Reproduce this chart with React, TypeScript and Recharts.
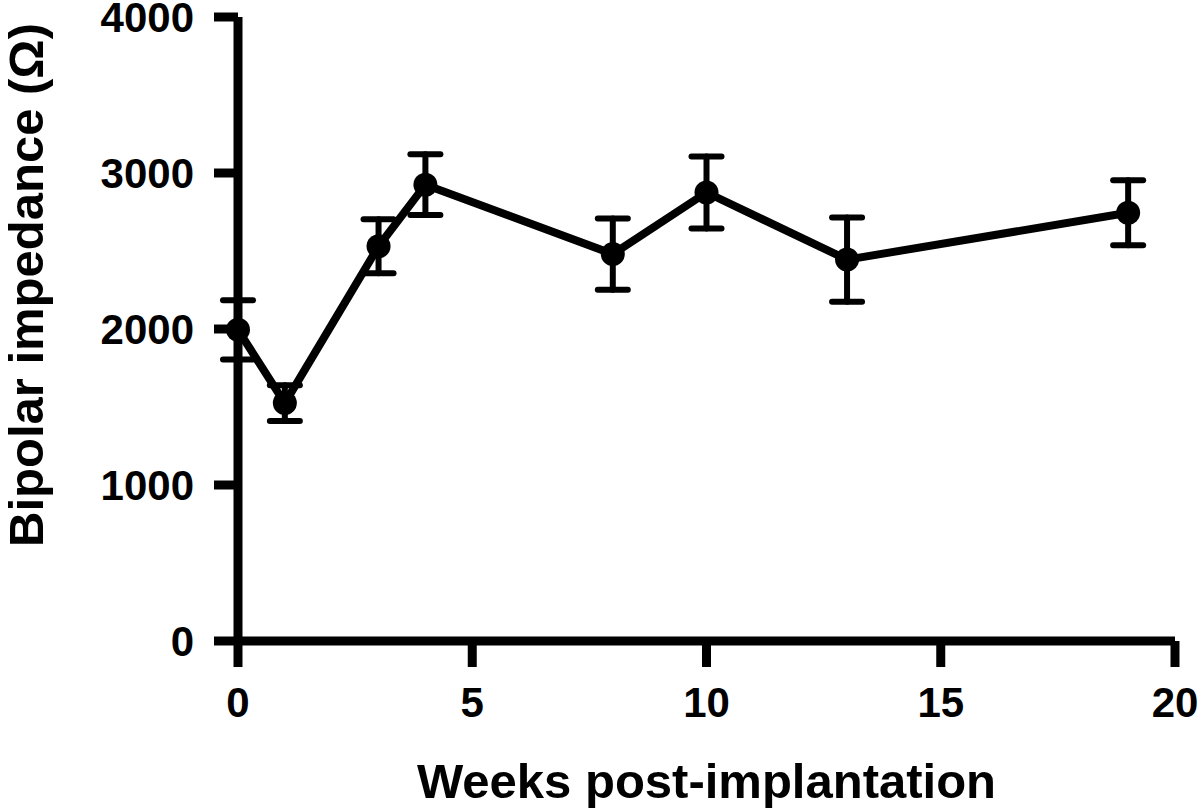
import React from "react";
import {
  ComposedChart,
  Line,
  XAxis,
  YAxis,
  ErrorBar,
  Label,
} from "recharts";

// weeks after implantation, mean bipolar impedance (ohm) and error (SEM)
const weeks = [0, 1, 3, 4, 8, 10, 13, 19];
const impedance = [1995, 1525, 2530, 2925, 2480, 2875, 2445, 2745];
const sem = [190, 115, 173, 195, 228, 230, 270, 208];

const xTicks = [0, 5, 10, 15, 20];
const yTicks = [0, 1000, 2000, 3000, 4000];

const data = weeks.map((w, i) => ({ week: w, value: impedance[i], err: sem[i] }));

const FONT = "'Liberation Sans', Arial, Helvetica, sans-serif";
const AXIS_STROKE = { stroke: "#000", strokeWidth: 9 };
const TICK_STYLE = { fill: "#000", fontSize: 42, fontWeight: "bold", fontFamily: FONT };
const TITLE_STYLE = { fontSize: 49, fontWeight: "bold", fill: "#000", fontFamily: FONT };

export default function App() {
  return (
    <div style={{ position: "absolute", left: 0, top: 0, background: "#fff", fontFamily: FONT }}>
      <ComposedChart
        width={1200}
        height={811}
        data={data}
        margin={{ top: 17, right: 25, left: 0, bottom: 0 }}
      >
        <XAxis
          dataKey="week"
          type="number"
          domain={[0, 20]}
          ticks={xTicks}
          interval={0}
          height={170}
          tick={TICK_STYLE}
          tickSize={26}
          tickMargin={20}
          tickLine={AXIS_STROKE}
          axisLine={AXIS_STROKE}
        >
          <Label
            value="Weeks post-implantation"
            position="insideBottom"
            offset={13}
            style={TITLE_STYLE}
          />
        </XAxis>
        <YAxis
          type="number"
          domain={[0, 4000]}
          ticks={yTicks}
          interval={0}
          width={238}
          tick={TICK_STYLE}
          tickSize={24}
          tickMargin={20}
          tickLine={AXIS_STROKE}
          axisLine={AXIS_STROKE}
        >
          <Label
            content={() => (
              <text
                x={26}
                y={285}
                transform="rotate(-90 26 285)"
                textAnchor="middle"
                dominantBaseline="central"
                style={TITLE_STYLE}
              >
                Bipolar impedance (Ω)
              </text>
            )}
          />
        </YAxis>
        <Line
          type="linear"
          dataKey="value"
          stroke="#000"
          strokeWidth={8}
          dot={{ r: 12, fill: "#000", stroke: "#000", strokeWidth: 0 }}
          activeDot={false}
          isAnimationActive={false}
        >
          <ErrorBar
            dataKey="err"
            direction="y"
            width={15}
            stroke="#000"
            strokeWidth={6}
            strokeLinecap="round"
          />
        </Line>
      </ComposedChart>
    </div>
  );
}
